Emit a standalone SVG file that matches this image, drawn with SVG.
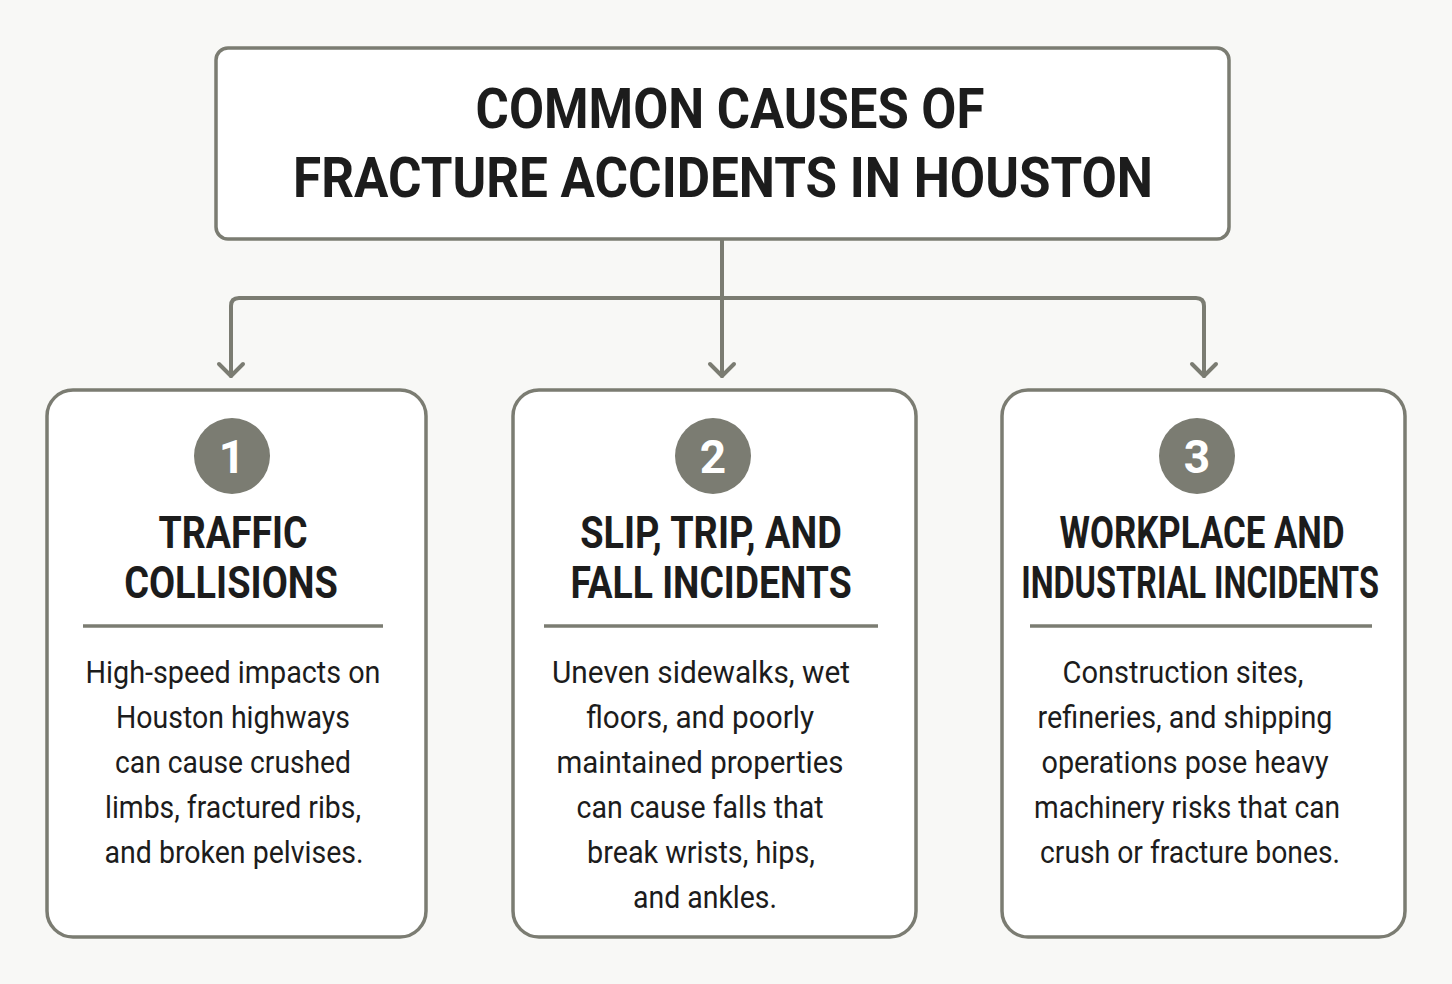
<svg xmlns="http://www.w3.org/2000/svg" width="1452" height="984" viewBox="0 0 1452 984">
<defs>
<style>
.box{fill:#ffffff;stroke:#7b7c72;stroke-width:3.5}
.conn{fill:none;stroke:#7b7c72;stroke-width:4;stroke-linejoin:round;stroke-linecap:round}
.div{stroke:#7b7c72;stroke-width:3.5}
.num{fill:#7b7c72}
.numt{font-family:Roboto,"Liberation Sans",sans-serif;font-weight:700;font-size:46px;fill:#ffffff;text-anchor:middle}
.title{font-family:Roboto,"Liberation Sans",sans-serif;font-weight:700;font-size:56px;fill:#1c1c1c;text-anchor:middle}
.head{font-family:Roboto,"Liberation Sans",sans-serif;font-weight:700;font-size:45px;fill:#1c1c1c;text-anchor:middle}
.body{font-family:Roboto,"Liberation Sans",sans-serif;font-weight:400;font-size:31px;fill:#1c1c1c;text-anchor:middle}
</style>
</defs>
<rect width="1452" height="984" fill="#f8f8f6"/>

<g id="connectors">
<path class="conn" d="M722 239 V298"/>
<path class="conn" d="M231 376 V306 Q231 298 239 298 H1196 Q1204 298 1204 306 V376"/>
<path class="conn" d="M722 298 V376"/>
<path d="M219 364 L231 376 L243 364" class="conn"/>
<path d="M710 364 L722 376 L734 364" class="conn"/>
<path d="M1192 364 L1204 376 L1216 364" class="conn"/>
</g>

<g id="title">
<rect class="box" x="216" y="48" width="1013" height="191" rx="12"/>
<text class="title" transform="translate(730,128) scale(0.8,1)" textLength="636" lengthAdjust="spacingAndGlyphs">COMMON CAUSES OF</text>
<text class="title" transform="translate(723,197) scale(0.8,1)" textLength="1075" lengthAdjust="spacingAndGlyphs">FRACTURE ACCIDENTS IN HOUSTON</text>
</g>

<g id="node1">
<rect class="box" x="47" y="390" width="379" height="547" rx="26"/>
<circle class="num" cx="232" cy="456" r="38"/>
<text class="numt" x="232" y="473">1</text>
<text class="head" transform="translate(233,548) scale(0.75,1)" textLength="199" lengthAdjust="spacingAndGlyphs">TRAFFIC</text>
<text class="head" transform="translate(231,598) scale(0.75,1)" textLength="285" lengthAdjust="spacingAndGlyphs">COLLISIONS</text>
<line class="div" x1="83" y1="626" x2="383" y2="626"/>
<text class="body" x="233" y="683" textLength="295" lengthAdjust="spacingAndGlyphs">High-speed impacts on</text>
<text class="body" x="233" y="728" textLength="234" lengthAdjust="spacingAndGlyphs">Houston highways</text>
<text class="body" x="233" y="773" textLength="236" lengthAdjust="spacingAndGlyphs">can cause crushed</text>
<text class="body" x="233" y="818" textLength="256" lengthAdjust="spacingAndGlyphs">limbs, fractured ribs,</text>
<text class="body" x="234" y="863" textLength="259" lengthAdjust="spacingAndGlyphs">and broken pelvises.</text>
</g>

<g id="node2">
<rect class="box" x="513" y="390" width="403" height="547" rx="26"/>
<circle class="num" cx="713" cy="456" r="38"/>
<text class="numt" x="713" y="473">2</text>
<text class="head" transform="translate(711,548) scale(0.75,1)" textLength="349" lengthAdjust="spacingAndGlyphs">SLIP, TRIP, AND</text>
<text class="head" transform="translate(711,598) scale(0.75,1)" textLength="375" lengthAdjust="spacingAndGlyphs">FALL INCIDENTS</text>
<line class="div" x1="544" y1="626" x2="878" y2="626"/>
<text class="body" x="701" y="683" textLength="298" lengthAdjust="spacingAndGlyphs">Uneven sidewalks, wet</text>
<text class="body" x="700" y="728" textLength="228" lengthAdjust="spacingAndGlyphs">floors, and poorly</text>
<text class="body" x="700" y="773" textLength="287" lengthAdjust="spacingAndGlyphs">maintained properties</text>
<text class="body" x="700" y="818" textLength="247" lengthAdjust="spacingAndGlyphs">can cause falls that</text>
<text class="body" x="701" y="863" textLength="228" lengthAdjust="spacingAndGlyphs">break wrists, hips,</text>
<text class="body" x="705" y="908" textLength="144" lengthAdjust="spacingAndGlyphs">and ankles.</text>
</g>

<g id="node3">
<rect class="box" x="1002" y="390" width="403" height="547" rx="26"/>
<circle class="num" cx="1197" cy="456" r="38"/>
<text class="numt" x="1197" y="473">3</text>
<text class="head" transform="translate(1202,548) scale(0.75,1)" textLength="380" lengthAdjust="spacingAndGlyphs">WORKPLACE AND</text>
<text class="head" transform="translate(1200,598) scale(0.75,1)" textLength="477" lengthAdjust="spacingAndGlyphs">INDUSTRIAL INCIDENTS</text>
<line class="div" x1="1030" y1="626" x2="1372" y2="626"/>
<text class="body" x="1183" y="683" textLength="241" lengthAdjust="spacingAndGlyphs">Construction sites,</text>
<text class="body" x="1185" y="728" textLength="295" lengthAdjust="spacingAndGlyphs">refineries, and shipping</text>
<text class="body" x="1185" y="773" textLength="287" lengthAdjust="spacingAndGlyphs">operations pose heavy</text>
<text class="body" x="1187" y="818" textLength="306" lengthAdjust="spacingAndGlyphs">machinery risks that can</text>
<text class="body" x="1190" y="863" textLength="300" lengthAdjust="spacingAndGlyphs">crush or fracture bones.</text>
</g>
</svg>
